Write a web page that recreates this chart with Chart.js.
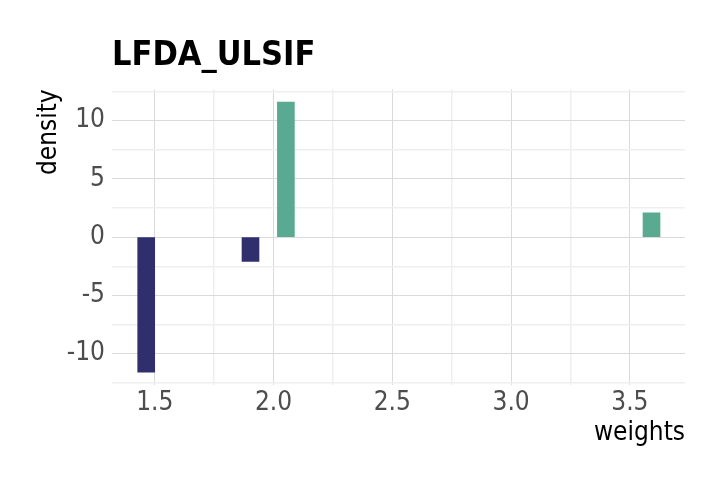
<!DOCTYPE html>
<html lang="en">
  <head>
    <meta charset="UTF-8" />
    <title>LFDA_ULSIF</title>
    <script src="https://cdn.jsdelivr.net/npm/chart.js@4.4.1/dist/chart.umd.min.js"></script>
    <style>
      html, body { margin: 0; padding: 0; background: #fff; }
      #wrap { width: 725px; height: 490px; }
    </style>
  </head>
  <body>
    <div id="wrap"><canvas id="myChart" width="725" height="490"></canvas></div>

    <script>
      // histogram bins (centre of each bin) and their signed density
      const weights = [1.464, 1.903, 2.052, 3.591];
      const density = [-11.6, -2.08, 11.6, 2.08];

      const xTicks = [1.5, 1.75, 2.0, 2.25, 2.5, 2.75, 3.0, 3.25, 3.5];
      const xMajor = [1.5, 2.0, 2.5, 3.0, 3.5];
      const yTicks = [-12.5, -10, -7.5, -5, -2.5, 0, 2.5, 5, 7.5, 10, 12.5];
      const yMajor = [-10, -5, 0, 5, 10];

      const NAVY = '#312E6E';
      const TEAL = '#5AA991';
      const FONT = "'Liberation Sans Narrow', 'DejaVu Sans Condensed', 'Liberation Sans', sans-serif";

      const isMajor = (list, v) => list.some(m => Math.abs(m - v) < 1e-6);
      const gridColor = list => c => isMajor(list, c.tick.value) ? '#DADADA' : '#EFEFEF';
      const gridWidth = list => c => isMajor(list, c.tick.value) ? 1 : 1.5;

      const ctx = document.getElementById('myChart').getContext('2d');
      const myChart = new Chart(ctx, {
        type: 'bar',
        data: {
          datasets: [{
            data: weights.map((w, i) => ({ x: w, y: density[i] })),
            backgroundColor: density.map(d => d < 0 ? NAVY : TEAL),
            barThickness: 17,
            borderWidth: 0
          }]
        },
        options: {
          responsive: false,
          animation: false,
          layout: { padding: { left: 0, right: 40, top: 0, bottom: 0 } },
          plugins: {
            legend: { display: false },
            tooltip: { enabled: false },
            title: {
              display: true,
              text: 'LFDA_ULSIF',
              align: 'start',
              fullSize: false,
              color: '#000',
              font: { family: FONT, size: 34, weight: 'bold', lineHeight: 1.2 },
              padding: { top: 36, bottom: 12.5 }
            }
          },
          scales: {
            x: {
              type: 'linear',
              min: 1.32,
              max: 3.732,
              offset: false,
              afterBuildTicks: s => { s.ticks = xTicks.map(v => ({ value: v })); },
              afterFit: s => { s.height = 105; },
              border: { display: false },
              grid: { color: gridColor(xMajor), lineWidth: gridWidth(xMajor), drawTicks: false, offset: false },
              ticks: {
                autoSkip: false,
                maxRotation: 0,
                padding: 3,
                color: '#4D4D4D',
                font: { family: FONT, size: 26, lineHeight: 1.2 },
                callback: v => isMajor(xMajor, v) ? v.toFixed(1) : ''
              },
              title: {
                display: true,
                text: 'weights',
                align: 'end',
                color: '#000',
                font: { family: FONT, size: 26, lineHeight: 1 },
                padding: { top: 0, bottom: 44 }
              }
            },
            y: {
              min: -12.7,
              max: 12.7,
              afterBuildTicks: s => { s.ticks = yTicks.map(v => ({ value: v })); },
              afterFit: s => { s.width = 112; },
              border: { display: false },
              grid: { color: gridColor(yMajor), lineWidth: gridWidth(yMajor), drawTicks: false },
              ticks: {
                autoSkip: false,
                padding: 7,
                color: '#4D4D4D',
                font: { family: FONT, size: 26, lineHeight: 1.2 },
                callback: v => isMajor(yMajor, v) ? String(v) : ''
              },
              title: {
                display: true,
                text: 'density',
                align: 'end',
                color: '#000',
                font: { family: FONT, size: 26, lineHeight: 1 },
                padding: { top: 36, bottom: 0 }
              }
            }
          }
        }
      });
    </script>
  </body>
</html>
